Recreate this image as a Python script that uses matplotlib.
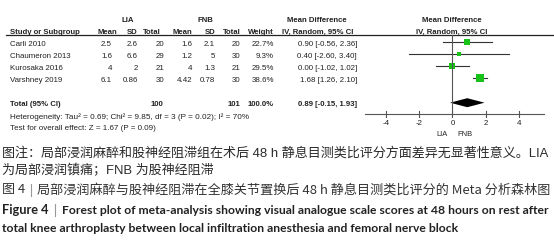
import matplotlib
matplotlib.use('Agg')
import matplotlib.pyplot as plt
import numpy as np

# study data
studies = ['Carli 2010', 'Chaumeron 2013', 'Kurosaka 2016', 'Varshney 2019']
lia_mean = ['2.5', '1.6', '4', '6.1']
lia_sd = ['2.6', '6.6', '2', '0.86']
lia_n = [20, 29, 21, 30]
fnb_mean = ['1.6', '1.2', '4', '4.42']
fnb_sd = ['2.1', '5', '1.3', '0.78']
fnb_n = [20, 30, 21, 30]
weight = [22.7, 9.3, 29.5, 38.6]
md = [0.90, 0.40, 0.00, 1.68]
ci_lo = [-0.56, -2.60, -1.02, 1.26]
ci_hi = [2.36, 3.40, 1.02, 2.10]
total_md, total_lo, total_hi = 0.89, -0.15, 1.93
total_lia, total_fnb, total_w = 100, 101, 100.0
ticks = [-4, -2, 0, 2, 4]

W, H = 554, 246
fig = plt.figure(figsize=(W / 100, H / 100), dpi=100)
fig.patch.set_facecolor('white')

ax = fig.add_axes([0, 0, 1, 1])
ax.set_xlim(0, W)
ax.set_ylim(H, 0)
ax.axis('off')
renderer = fig.canvas.get_renderer()

TF = ['Liberation Sans', 'DejaVu Sans']
CJK = ['Liberation Sans', 'Noto Sans CJK SC', 'DejaVu Sans']
tc = '#222222'


def fit(x, y, s, target, **kw):
    txt = ax.text(x, y, s, va='center', **kw)
    w = txt.get_window_extent(renderer).width
    txt.set_fontsize(txt.get_fontsize() * target / w)
    return txt


# font sizes matched to measured string widths in the reference
hfs = fit(10, 32, 'Study or Subgroup', 71, fontsize=6, family=TF, fontweight='bold', color=tc).get_fontsize()
probe = ax.text(0, 0, 'Chaumeron 2013', fontsize=6, family=TF)
fs = 6 * 62 / probe.get_window_extent(renderer).width
probe.remove()


def t(x, y, s, ha='left', bold=False, size=None, color=tc, family=TF):
    if size is None:
        size = hfs if bold else fs
    return ax.text(x, y, s, ha=ha, va='center', fontsize=size, color=color,
                   family=family, fontweight='bold' if bold else 'normal')


# header
t(128, 20.5, 'LIA', ha='center', bold=True)
t(205, 20.5, 'FNB', ha='center', bold=True)
t(317, 20, 'Mean Difference', ha='center', bold=True)
t(452, 20, 'Mean Difference', ha='center', bold=True)
hy = 32
t(117, hy, 'Mean', ha='right', bold=True)
t(138, hy, 'SD', ha='right', bold=True)
t(161, hy, 'Total', ha='right', bold=True)
t(192, hy, 'Mean', ha='right', bold=True)
t(216, hy, 'SD', ha='right', bold=True)
t(241, hy, 'Total', ha='right', bold=True)
t(274, hy, 'Weight', ha='right', bold=True)
t(318, hy, 'IV, Random, 95% CI', ha='center', bold=True)
t(452, hy, 'IV, Random, 95% CI', ha='center', bold=True)
ax.plot([6, W], [35, 35], color='#222222', lw=0.9)

rows_y = [44.5, 56.5, 68.7, 80.7]
for i, y in enumerate(rows_y):
    t(10.5, y, studies[i])
    t(112, y, lia_mean[i], ha='right')
    t(138, y, lia_sd[i], ha='right')
    t(164, y, str(lia_n[i]), ha='right')
    t(192, y, fnb_mean[i], ha='right')
    t(215, y, fnb_sd[i], ha='right')
    t(240, y, str(fnb_n[i]), ha='right')
    t(274, y, f'{weight[i]:.1f}%', ha='right')
    t(357, y, f'{md[i]:.2f} [{ci_lo[i]:.2f}, {ci_hi[i]:.2f}]', ha='right')

ty = 105
t(10.5, ty, 'Total (95% CI)', bold=True)
t(163, ty, str(total_lia), ha='right', bold=True)
t(240, ty, str(total_fnb), ha='right', bold=True)
t(274, ty, f'{total_w:.1f}%', ha='right', bold=True)
t(357, ty, f'{total_md:.2f} [{total_lo:.2f}, {total_hi:.2f}]', ha='right', bold=True)
fit(10, 117, 'Heterogeneity: Tau\u00b2 = 0.69; Chi\u00b2 = 9.85, df = 3 (P = 0.02); I\u00b2 = 70%', 240,
    fontsize=6, family=TF, color=tc)
fit(10, 128, 'Test for overall effect: Z = 1.67 (P = 0.09)', 148, fontsize=6, family=TF, color=tc)

# forest panel
x0px, ppu = 452.5, 16.6
xlo, xhi = -5.3, 5.5
axf = fig.add_axes([(x0px + xlo * ppu) / W, 0, (xhi - xlo) * ppu / W, 1])
axf.set_xlim(xlo, xhi)
axf.set_ylim(H, 0)
axf.axis('off')

green = '#17c317'
for i, y in enumerate(rows_y):
    my = y - 2.4
    axf.plot([ci_lo[i], ci_hi[i]], [my, my], color='#333333', lw=0.8, clip_on=False)
    side = 1.15 * np.sqrt(weight[i])
    axf.plot(md[i], my, 's', color=green, markersize=side / 1.389, mew=0, clip_on=False)

dy = 102.7
axf.fill([total_lo, total_md, total_hi, total_md], [dy, dy - 4.5, dy, dy + 4.5],
         color='black', lw=0, clip_on=False)
axf.plot([0, 0], [35, 114], color='#555555', lw=0.8)
axf.plot([xlo, xhi], [114, 114], color='#555555', lw=0.8, clip_on=False)
for tk in ticks:
    axf.plot([tk, tk], [111, 117], color='#555555', lw=0.8)
    axf.text(tk, 123.5, f'{tk:d}', ha='center', va='center', fontsize=fs, color=tc, family=TF)
axf.text(-0.3, 135, 'LIA', ha='right', va='center', fontsize=fs * 0.95, color=tc, family=TF)
axf.text(0.3, 135, 'FNB', ha='left', va='center', fontsize=fs * 0.95, color=tc, family=TF)

# captions
cap1 = '图注：局部浸润麻醉和股神经阻滞组在术后 48 h 静息目测类比评分方面差异无显著性意义。LIA'
txt1 = fit(2, 153, cap1, 546, fontsize=9.4, family=CJK, color='#2a2a2a')
ax.text(2, 171, '为局部浸润镇痛；FNB 为股神经阻滞', va='center', fontsize=txt1.get_fontsize(),
        family=CJK, color='#2a2a2a')

cap3 = '局部浸润麻醉与股神经阻滞在全膝关节置换后 48 h 静息目测类比评分的 Meta 分析森林图'
t3 = ax.text(2, 190, '图 4', va='center', fontsize=9.4, family=['Noto Sans CJK SC'], color='#333333')
w3 = t3.get_window_extent(renderer).width
ax.plot([w3 + 8, w3 + 8], [184, 196], color='#999999', lw=0.8)
fit(w3 + 14, 190, cap3, 548 - (w3 + 14), fontsize=9.4, family=['Noto Sans CJK SC'], color='#333333')

bf = ['Lato', 'DejaVu Sans']
t4 = ax.text(2, 210, 'Figure 4', va='center', fontsize=9.2, family=bf, fontweight='bold', color='#222222')
w4 = t4.get_window_extent(renderer).width
ax.plot([w4 + 8, w4 + 8], [204, 216], color='#999999', lw=0.8)
cap4 = 'Forest plot of meta-analysis showing visual analogue scale scores at 48 hours on rest after'
t4b = fit(w4 + 16, 210, cap4, 545 - (w4 + 16), fontsize=9.2, family=bf, fontweight='bold', color='#222222')
ax.text(2, 229, 'total knee arthroplasty between local infiltration anesthesia and femoral nerve block',
        va='center', fontsize=t4b.get_fontsize(), family=bf, fontweight='bold', color='#222222')

fig.savefig('out.png', dpi=100, facecolor='white')
